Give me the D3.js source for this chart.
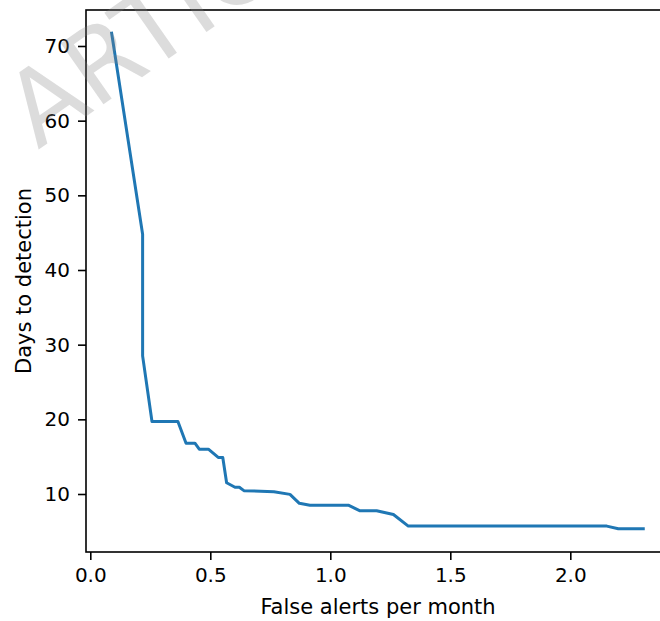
<!DOCTYPE html>
<html>
<head>
<meta charset="utf-8">
<script src="https://cdn.jsdelivr.net/npm/d3@7"></script>
<style>
  html, body { margin: 0; padding: 0; background: #fff; }
  svg { display: block; font-family: "DejaVu Sans", sans-serif; }
</style>
</head>
<body>
<svg id="chart" width="660" height="621"></svg>
<script>
// ---- data ----
const falseAlerts = [0.089, 0.218, 0.218, 0.257, 0.365, 0.399, 0.436, 0.454, 0.492, 0.533, 0.552, 0.568, 0.603, 0.621, 0.640, 0.765, 0.832, 0.871, 0.915, 1.075, 1.124, 1.193, 1.263, 1.325, 2.152, 2.200, 2.304];
const daysToDetection = [71.7, 44.8, 28.5, 19.7, 19.7, 16.8, 16.8, 16.0, 16.0, 14.9, 14.9, 11.5, 10.9, 10.9, 10.45, 10.3, 9.95, 8.75, 8.5, 8.5, 7.75, 7.75, 7.25, 5.7, 5.7, 5.35, 5.35];
const xTicks = [0.0, 0.5, 1.0, 1.5, 2.0];
const yTicks = [10, 20, 30, 40, 50, 60, 70];
const xLabel = "False alerts per month";
const yLabel = "Days to detection";
const watermark = "ARTICLE IN PRESS";

// ---- layout ----
const svg = d3.select("#chart");
const mLeft = 86, mRight = 670, mTop = 10, mBottom = 552;
const xDomain = [-0.0179, 2.4154];
const yDomain = [2.232, 74.821];

const x = d3.scaleLinear().domain(xDomain).range([mLeft, mRight]);
const y = d3.scaleLinear().domain(yDomain).range([mBottom, mTop]);

const tickFont = 20;

// x axis
const gx = svg.append("g")
  .attr("transform", `translate(0,${mBottom})`)
  .call(d3.axisBottom(x).tickValues(xTicks).tickFormat(d3.format(".1f")).tickSize(8).tickPadding(8));
// y axis
const gy = svg.append("g")
  .attr("transform", `translate(${mLeft},0)`)
  .call(d3.axisLeft(y).tickValues(yTicks).tickFormat(d3.format("d")).tickSize(8).tickPadding(8));

[gx, gy].forEach(g => {
  g.select(".domain").remove();
  g.selectAll(".tick line").attr("stroke", "#000").attr("stroke-width", 1.6);
  g.selectAll(".tick text").attr("fill", "#000").style("font-size", tickFont + "px").style("font-family", "DejaVu Sans, sans-serif");
});

// line
const line = d3.line().x((d, i) => x(falseAlerts[i])).y(d => y(d));
svg.append("path")
  .datum(daysToDetection)
  .attr("fill", "none")
  .attr("stroke", "#1f77b4")
  .attr("stroke-width", 3)
  .attr("stroke-linejoin", "round")
  .attr("stroke-linecap", "square")
  .attr("d", line);

// spines
svg.append("rect")
  .attr("x", mLeft).attr("y", mTop)
  .attr("width", mRight - mLeft).attr("height", mBottom - mTop)
  .attr("fill", "none").attr("stroke", "#000").attr("stroke-width", 1.6);

// axis labels
svg.append("text")
  .attr("x", (mLeft + mRight) / 2).attr("y", 614)
  .attr("text-anchor", "middle")
  .style("font-size", "21px")
  .text(xLabel);

svg.append("text")
  .attr("transform", `translate(31,${(mTop + mBottom) / 2}) rotate(-90)`)
  .attr("text-anchor", "middle")
  .style("font-size", "21px")
  .text(yLabel);

// watermark
svg.append("text")
  .attr("transform", "translate(38,150) rotate(-35)")
  .style("font-size", "102px")
  .attr("fill", "#808080")
  .attr("fill-opacity", 0.28)
  .text(watermark);
</script>
</body>
</html>
